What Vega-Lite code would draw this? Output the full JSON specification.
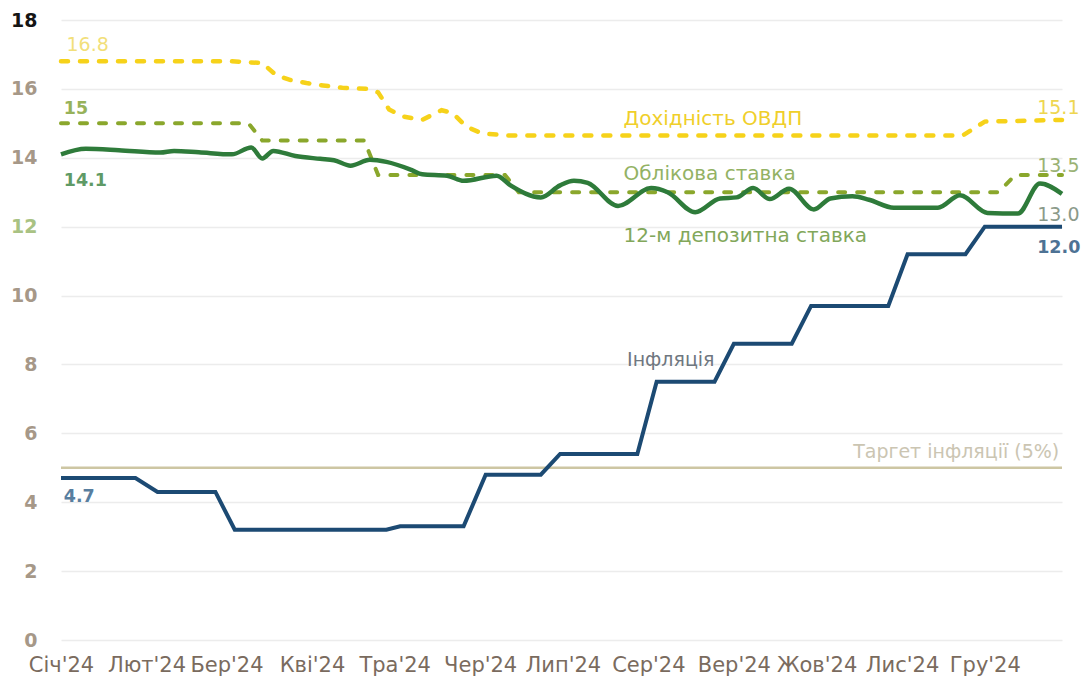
{
  "$schema": "https://vega.github.io/schema/vega-lite/v6.json",
  "width": 1001,
  "height": 620,
  "autosize": {"type": "none"},
  "padding": {"left": 61, "top": 20, "right": 22, "bottom": 42},
  "background": "white",
  "config": {"view": {"stroke": null}},
  "datasets": {
    "target": [{"v": 5}],
    "lines": [
      {"s": "ovdp", "date": "2024-01-01", "v": 16.8},
      {"s": "ovdp", "date": "2024-03-03", "v": 16.8},
      {"s": "ovdp", "date": "2024-03-14", "v": 16.75},
      {"s": "ovdp", "date": "2024-03-19", "v": 16.4},
      {"s": "ovdp", "date": "2024-03-24", "v": 16.26},
      {"s": "ovdp", "date": "2024-03-30", "v": 16.17},
      {"s": "ovdp", "date": "2024-04-05", "v": 16.1},
      {"s": "ovdp", "date": "2024-04-12", "v": 16.03},
      {"s": "ovdp", "date": "2024-04-21", "v": 16.0},
      {"s": "ovdp", "date": "2024-04-25", "v": 15.9},
      {"s": "ovdp", "date": "2024-04-29", "v": 15.4},
      {"s": "ovdp", "date": "2024-05-04", "v": 15.2},
      {"s": "ovdp", "date": "2024-05-11", "v": 15.1},
      {"s": "ovdp", "date": "2024-05-18", "v": 15.38},
      {"s": "ovdp", "date": "2024-05-22", "v": 15.3},
      {"s": "ovdp", "date": "2024-05-27", "v": 14.9},
      {"s": "ovdp", "date": "2024-06-02", "v": 14.7},
      {"s": "ovdp", "date": "2024-06-11", "v": 14.65},
      {"s": "ovdp", "date": "2024-11-23", "v": 14.65},
      {"s": "ovdp", "date": "2024-12-01", "v": 15.05},
      {"s": "ovdp", "date": "2024-12-29", "v": 15.1},

      {"s": "disc", "date": "2024-01-01", "v": 15},
      {"s": "disc", "date": "2024-03-09", "v": 15},
      {"s": "disc", "date": "2024-03-14", "v": 14.5},
      {"s": "disc", "date": "2024-04-20", "v": 14.5},
      {"s": "disc", "date": "2024-04-25", "v": 13.5},
      {"s": "disc", "date": "2024-06-10", "v": 13.5},
      {"s": "disc", "date": "2024-06-15", "v": 13.0},
      {"s": "disc", "date": "2024-12-06", "v": 13.0},
      {"s": "disc", "date": "2024-12-12", "v": 13.5},
      {"s": "disc", "date": "2024-12-29", "v": 13.5},

      {"s": "dep", "date": "2024-01-01", "v": 14.1},
      {"s": "dep", "date": "2024-01-10", "v": 14.26},
      {"s": "dep", "date": "2024-01-22", "v": 14.22},
      {"s": "dep", "date": "2024-02-06", "v": 14.15},
      {"s": "dep", "date": "2024-02-11", "v": 14.2},
      {"s": "dep", "date": "2024-02-20", "v": 14.16},
      {"s": "dep", "date": "2024-03-03", "v": 14.1},
      {"s": "dep", "date": "2024-03-10", "v": 14.3},
      {"s": "dep", "date": "2024-03-14", "v": 13.98},
      {"s": "dep", "date": "2024-03-18", "v": 14.2},
      {"s": "dep", "date": "2024-03-26", "v": 14.05},
      {"s": "dep", "date": "2024-04-04", "v": 13.97},
      {"s": "dep", "date": "2024-04-09", "v": 13.93},
      {"s": "dep", "date": "2024-04-15", "v": 13.77},
      {"s": "dep", "date": "2024-04-22", "v": 13.94},
      {"s": "dep", "date": "2024-04-28", "v": 13.88},
      {"s": "dep", "date": "2024-05-07", "v": 13.65},
      {"s": "dep", "date": "2024-05-11", "v": 13.52},
      {"s": "dep", "date": "2024-05-20", "v": 13.48},
      {"s": "dep", "date": "2024-05-26", "v": 13.33},
      {"s": "dep", "date": "2024-06-07", "v": 13.48},
      {"s": "dep", "date": "2024-06-12", "v": 13.2},
      {"s": "dep", "date": "2024-06-23", "v": 12.85},
      {"s": "dep", "date": "2024-06-30", "v": 13.2},
      {"s": "dep", "date": "2024-07-05", "v": 13.33},
      {"s": "dep", "date": "2024-07-10", "v": 13.27},
      {"s": "dep", "date": "2024-07-21", "v": 12.6},
      {"s": "dep", "date": "2024-08-02", "v": 13.12},
      {"s": "dep", "date": "2024-08-08", "v": 13.0},
      {"s": "dep", "date": "2024-08-18", "v": 12.42},
      {"s": "dep", "date": "2024-08-27", "v": 12.82},
      {"s": "dep", "date": "2024-09-02", "v": 12.85},
      {"s": "dep", "date": "2024-09-08", "v": 13.12},
      {"s": "dep", "date": "2024-09-14", "v": 12.8},
      {"s": "dep", "date": "2024-09-21", "v": 13.1},
      {"s": "dep", "date": "2024-09-30", "v": 12.5},
      {"s": "dep", "date": "2024-10-06", "v": 12.82},
      {"s": "dep", "date": "2024-10-14", "v": 12.88},
      {"s": "dep", "date": "2024-10-20", "v": 12.78},
      {"s": "dep", "date": "2024-10-29", "v": 12.55},
      {"s": "dep", "date": "2024-11-14", "v": 12.55},
      {"s": "dep", "date": "2024-11-22", "v": 12.91},
      {"s": "dep", "date": "2024-12-02", "v": 12.4},
      {"s": "dep", "date": "2024-12-13", "v": 12.38},
      {"s": "dep", "date": "2024-12-21", "v": 13.25},
      {"s": "dep", "date": "2024-12-29", "v": 12.95},

      {"s": "inf", "date": "2024-01-01", "v": 4.7},
      {"s": "inf", "date": "2024-01-28", "v": 4.7},
      {"s": "inf", "date": "2024-02-05", "v": 4.3},
      {"s": "inf", "date": "2024-02-26", "v": 4.3},
      {"s": "inf", "date": "2024-03-04", "v": 3.2},
      {"s": "inf", "date": "2024-04-28", "v": 3.2},
      {"s": "inf", "date": "2024-05-03", "v": 3.3},
      {"s": "inf", "date": "2024-05-26", "v": 3.3},
      {"s": "inf", "date": "2024-06-03", "v": 4.8},
      {"s": "inf", "date": "2024-06-23", "v": 4.8},
      {"s": "inf", "date": "2024-06-30", "v": 5.4},
      {"s": "inf", "date": "2024-07-28", "v": 5.4},
      {"s": "inf", "date": "2024-08-04", "v": 7.5},
      {"s": "inf", "date": "2024-08-25", "v": 7.5},
      {"s": "inf", "date": "2024-09-01", "v": 8.6},
      {"s": "inf", "date": "2024-09-22", "v": 8.6},
      {"s": "inf", "date": "2024-09-29", "v": 9.7},
      {"s": "inf", "date": "2024-10-27", "v": 9.7},
      {"s": "inf", "date": "2024-11-03", "v": 11.2},
      {"s": "inf", "date": "2024-11-24", "v": 11.2},
      {"s": "inf", "date": "2024-12-01", "v": 12.0},
      {"s": "inf", "date": "2024-12-29", "v": 12.0}
    ],
    "labels": [
      {"key": "n168", "text": "16.8", "date": "2024-01-03", "v": 17.28},
      {"key": "n151", "text": "15.1", "date": "2024-12-20", "v": 15.45},
      {"key": "n135", "text": "13.5", "date": "2024-12-20", "v": 13.76},
      {"key": "n130", "text": "13.0", "date": "2024-12-20", "v": 12.34},
      {"key": "b15", "text": "15", "date": "2024-01-02", "v": 15.43},
      {"key": "b141", "text": "14.1", "date": "2024-01-02", "v": 13.34},
      {"key": "b47", "text": "4.7", "date": "2024-01-02", "v": 4.15},
      {"key": "b120", "text": "12.0", "date": "2024-12-20", "v": 11.38},
      {"key": "ovdp", "text": "Дохідність ОВДП", "date": "2024-07-23", "v": 15.13},
      {"key": "disc", "text": "Облікова ставка", "date": "2024-07-23", "v": 13.53},
      {"key": "dep", "text": "12-м депозитна ставка", "date": "2024-07-23", "v": 11.73},
      {"key": "inf", "text": "Інфляція", "date": "2024-08-25", "v": 8.13},
      {"key": "tgt", "text": "Таргет інфляції (5%)", "date": "2024-12-28", "v": 5.46}
    ]
  },
  "layer": [
    {
      "data": {"name": "target"},
      "mark": {"type": "rule", "color": "#cdc6a3", "strokeWidth": 2.5},
      "encoding": {
        "y": {"field": "v", "type": "quantitative", "scale": {"domain": [0, 18], "nice": false}}
      }
    },
    {
      "data": {"name": "lines"},
      "transform": [{"filter": "datum.s == 'ovdp'"}],
      "mark": {"type": "line", "color": "#f6d21a", "strokeWidth": 4.5, "strokeDash": [7, 12], "strokeCap": "round"},
      "encoding": {
        "x": {
          "field": "date", "type": "temporal",
          "scale": {"type": "utc", "domain": [{"year": 2024, "month": 1, "date": 1, "utc": true}, {"year": 2024, "month": 12, "date": 29, "utc": true}]},
          "axis": {
            "title": null,
            "tickCount": {"interval": "month", "step": 1},
            "labelExpr": "['Січ','Лют','Бер','Кві','Тра','Чер','Лип','Сер','Вер','Жов','Лис','Гру'][utcmonth(datum.value)] + \"'24\"",
            "grid": false, "domain": false, "ticks": false,
            "labelPadding": 14, "labelFont": "DejaVu Sans", "labelFontSize": 21,
            "labelColor": "#7a6b5e", "labelFlush": false, "labelOverlap": false
          }
        },
        "y": {
          "field": "v", "type": "quantitative",
          "scale": {"domain": [0, 18], "nice": false},
          "axis": {
            "title": null,
            "values": [0, 2, 4, 6, 8, 10, 12, 14, 16, 18],
            "grid": true, "gridColor": "#ececec", "gridWidth": 1.5,
            "domain": false, "ticks": false, "labelPadding": 24,
            "labelFont": "DejaVu Sans", "labelFontWeight": "bold", "labelFontSize": 19,
            "labelColor": {"condition": [{"test": "datum.value == 18", "value": "#151515"}, {"test": "datum.value == 12", "value": "#a9c283"}], "value": "#a69888"}
          }
        }
      }
    },
    {
      "data": {"name": "lines"},
      "transform": [{"filter": "datum.s == 'disc'"}],
      "mark": {"type": "line", "color": "#8aa72c", "strokeWidth": 4, "strokeDash": [7, 12], "strokeCap": "round"},
      "encoding": {
        "x": {"field": "date", "type": "temporal"},
        "y": {"field": "v", "type": "quantitative"}
      }
    },
    {
      "data": {"name": "lines"},
      "transform": [{"filter": "datum.s == 'dep'"}],
      "mark": {"type": "line", "color": "#2e7b3a", "strokeWidth": 4.5, "interpolate": "monotone"},
      "encoding": {
        "x": {"field": "date", "type": "temporal"},
        "y": {"field": "v", "type": "quantitative"}
      }
    },
    {
      "data": {"name": "lines"},
      "transform": [{"filter": "datum.s == 'inf'"}],
      "mark": {"type": "line", "color": "#1c4a73", "strokeWidth": 4},
      "encoding": {
        "x": {"field": "date", "type": "temporal"},
        "y": {"field": "v", "type": "quantitative"}
      }
    },
    {
      "data": {"name": "labels"},
      "transform": [{"filter": "indexof(['ovdp','disc','dep'], datum.key) >= 0"}],
      "mark": {"type": "text", "align": "left", "baseline": "middle", "font": "DejaVu Sans", "fontSize": 20},
      "encoding": {
        "x": {"field": "date", "type": "temporal"},
        "y": {"field": "v", "type": "quantitative"},
        "text": {"field": "text"},
        "color": {"field": "key", "type": "nominal", "legend": null,
          "scale": {"domain": ["n168","n151","n135","n130","b15","b141","b47","b120","ovdp","disc","dep","inf","tgt"],
                    "range": ["#f2df7a","#eed650","#9ab274","#8b9a8a","#97b25a","#5f9a66","#587e9f","#4d7294","#f0cf2a","#93b264","#82a75a","#6f7780","#cbc5b2"]}}
      }
    },
    {
      "data": {"name": "labels"},
      "transform": [{"filter": "indexof(['n168','n151','n135','n130'], datum.key) >= 0"}],
      "mark": {"type": "text", "align": "left", "baseline": "middle", "font": "DejaVu Sans", "fontSize": 19},
      "encoding": {
        "x": {"field": "date", "type": "temporal"},
        "y": {"field": "v", "type": "quantitative"},
        "text": {"field": "text"},
        "color": {"field": "key", "type": "nominal", "legend": null}
      }
    },
    {
      "data": {"name": "labels"},
      "transform": [{"filter": "indexof(['b15','b141','b47','b120'], datum.key) >= 0"}],
      "mark": {"type": "text", "align": "left", "baseline": "middle", "font": "DejaVu Sans", "fontSize": 17.5, "fontWeight": "bold"},
      "encoding": {
        "x": {"field": "date", "type": "temporal"},
        "y": {"field": "v", "type": "quantitative"},
        "text": {"field": "text"},
        "color": {"field": "key", "type": "nominal", "legend": null}
      }
    },
    {
      "data": {"name": "labels"},
      "transform": [{"filter": "indexof(['inf','tgt'], datum.key) >= 0"}],
      "mark": {"type": "text", "align": "right", "baseline": "middle", "font": "DejaVu Sans", "fontSize": 19},
      "encoding": {
        "x": {"field": "date", "type": "temporal"},
        "y": {"field": "v", "type": "quantitative"},
        "text": {"field": "text"},
        "color": {"field": "key", "type": "nominal", "legend": null}
      }
    }
  ]
}
